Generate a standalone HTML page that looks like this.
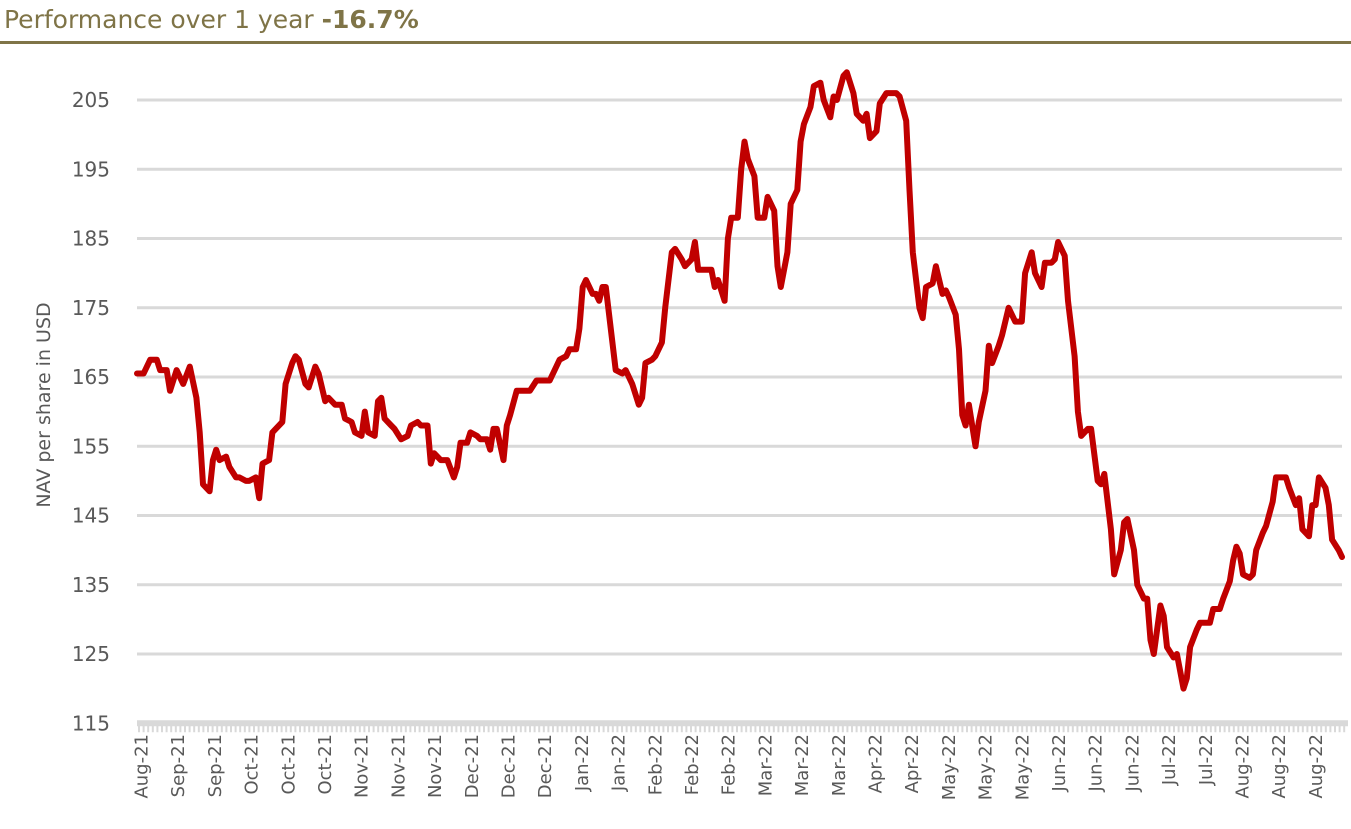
<!DOCTYPE html>
<html><head><meta charset="utf-8"><style>
html,body{margin:0;padding:0;background:#fff;}
body{width:1351px;height:829px;overflow:hidden;position:relative;font-family:"DejaVu Sans","Liberation Sans",sans-serif;}
#title{position:absolute;left:4px;top:5px;font-size:25px;color:#7f7447;white-space:nowrap;font-family:"DejaVu Sans","Liberation Sans",sans-serif;}
#rule{position:absolute;left:0;top:41px;width:1351px;height:3px;background:#7f7447;}
</style></head><body>
<div id="title">Performance over 1 year <b>-16.7%</b></div>
<div id="rule"></div>
<svg id="chart" width="1351" height="829" style="position:absolute;left:0;top:0"></svg>
<script>
const yTicks=[115,125,135,145,155,165,175,185,195,205];
const xLabels=["Aug-21","Sep-21","Sep-21","Oct-21","Oct-21","Oct-21","Nov-21","Nov-21","Nov-21","Dec-21","Dec-21","Dec-21","Jan-22","Jan-22","Feb-22","Feb-22","Feb-22","Mar-22","Mar-22","Mar-22","Apr-22","Apr-22","May-22","May-22","May-22","Jun-22","Jun-22","Jun-22","Jul-22","Jul-22","Aug-22","Aug-22","Aug-22"];
const dayOffsets=[0,2,4,6,7,9,10,12,13,14,16,18,19,20,22,23,24,25,27,28,30,31,33,34,36,37,38,40,41,42,44,45,47,48,49,51,52,54,55,57,58,60,62,63,65,66,68,69,70,72,73,74,75,77,78,80,82,83,85,86,88,89,90,92,93,94,96,97,98,100,101,103,104,106,107,108,109,111,112,113,115,116,118,119,121,122,124,125,127,128,130,131,133,134,135,136,138,139,140,141,142,144,145,147,148,150,152,153,154,156,157,159,160,162,163,165,166,168,169,170,172,174,175,176,178,179,180,182,183,184,185,187,188,190,191,193,194,195,197,198,200,201,202,204,205,207,208,210,211,212,214,215,217,218,220,221,222,224,225,227,228,230,231,233,234,235,237,238,239,241,242,244,245,246,248,249,250,251,252,254,255,257,258,259,261,262,264,265,266,268,269,271,272,274,275,277,278,279,281,282,284,285,286,288,289,291,292,293,295,296,298,299,300,302,303,305,306,307,308,310,311,312,314,315,317,318,319,321,322,324,325,326,328,329,331,332,333,334,335,337,338,339,341,342,344,345,346,348,349,351,352,353,355,356,357,358,360,361,362,364,365];
const navValues=[165.5,165.5,167.5,167.5,166,166,163,166,165,164,166.5,162,157,149.5,148.5,153,154.5,153,153.5,152,150.5,150.5,150,150,150.5,147.5,152.5,153,157,157.5,158.5,164,167,168,167.5,164,163.5,166.5,165.5,161.5,162,161,161,159,158.5,157,156.5,160,157,156.5,161.5,162,159,158,157.5,156,156.5,158,158.5,158,158,152.5,154,153,153,153,150.5,152,155.5,155.5,157,156.5,156,156,154.5,157.5,157.5,153,158,159.5,163,163,163,163,164.5,164.5,164.5,164.5,166.5,167.5,168,169,169,172,178,179,177,177,176,178,178,170,166,165.5,166,164,161,162,167,167.5,168,170,175,183,183.5,182,181,182,184.5,180.5,180.5,180.5,178,179,176,185,188,188,195,199,196.5,194,188,188,191,189,181,178,183,190,192,199,201.5,204,207,207.5,205,202.5,205.5,205,208.5,209,206,203,202,203,199.5,200.5,204.5,206,206,206,205.5,202,192,183,175,173.5,178,178.5,181,177,177.5,176.5,174,169,159.5,158,161,155,158.5,163,169.5,167,169.5,171,175,174,173,173,180,183,180,178,181.5,181.5,182,184.5,182.5,176,168,160,156.5,157.5,157.5,150,149.5,151,143,136.5,140,144,144.5,140,135,133,133,127,125,132,130.5,126,124.5,125,120,121.5,126,128.5,129.5,129.5,129.5,131.5,131.5,133,135.5,138.5,140.5,139.5,136.5,136,136.5,140,142.5,143.5,147,150.5,150.5,150.5,149,146.5,147.5,143,142,146.5,146.5,150.5,149,146.5,141.5,140,139];
const NS="http://www.w3.org/2000/svg";
const svg=document.getElementById('chart');
const X0=137,X1=1342,Y205=100,YPER=69.25/10,DAYS=365;
function yScale(v){return Y205+(205-v)*YPER;}
function xScale(d){return X0+d*(X1-X0)/DAYS;}
function labelX(i){return 142+i*36.7;}
function mk(t,a){const e=document.createElementNS(NS,t);for(const k in a)e.setAttribute(k,a[k]);svg.appendChild(e);return e;}
yTicks.forEach(v=>{
  if(v>115){const g=mk('line',{x1:X0,x2:X1,y1:yScale(v),y2:yScale(v),stroke:'#d9d9d9','stroke-width':3});
  
  }
  const t=mk('text',{x:110,y:yScale(v)+7,'text-anchor':'end','font-size':20,fill:'#595959','font-family':'DejaVu Sans, Liberation Sans, sans-serif'});
  t.textContent=v;
  
  
});
const ax=mk('rect',{x:X0,y:yScale(115)-3,width:X1-X0+6,height:6,fill:'#d9d9d9'});


for(let x=X0+2;x<X1+5;x+=4.6){const tk=mk('line',{x1:x,x2:x,y1:yScale(115)+1,y2:yScale(115)+9,stroke:'#d9d9d9','stroke-width':2});

}
xLabels.forEach((l,i)=>{
  const x=labelX(i),y=734;
  const t=mk('text',{x:x,y:y,transform:`rotate(-90 ${x} ${y})`,'text-anchor':'end','dominant-baseline':'central','font-size':18,fill:'#595959','font-family':'DejaVu Sans, Liberation Sans, sans-serif'});
  t.textContent=l;
  
  
});
const yt=mk('text',{x:50,y:405,transform:'rotate(-90 50 405)','text-anchor':'middle','font-size':19,fill:'#595959','font-family':'DejaVu Sans, Liberation Sans, sans-serif'});
yt.textContent='NAV per share in USD';


const d=navValues.map((v,i)=>(i?'L':'M')+xScale(dayOffsets[i]).toFixed(1)+' '+yScale(v).toFixed(1)).join(' ');
const p=mk('path',{d:d,fill:'none',stroke:'#c00000','stroke-width':6,'stroke-linejoin':'round','stroke-linecap':'round'});


</script>
</body></html>
